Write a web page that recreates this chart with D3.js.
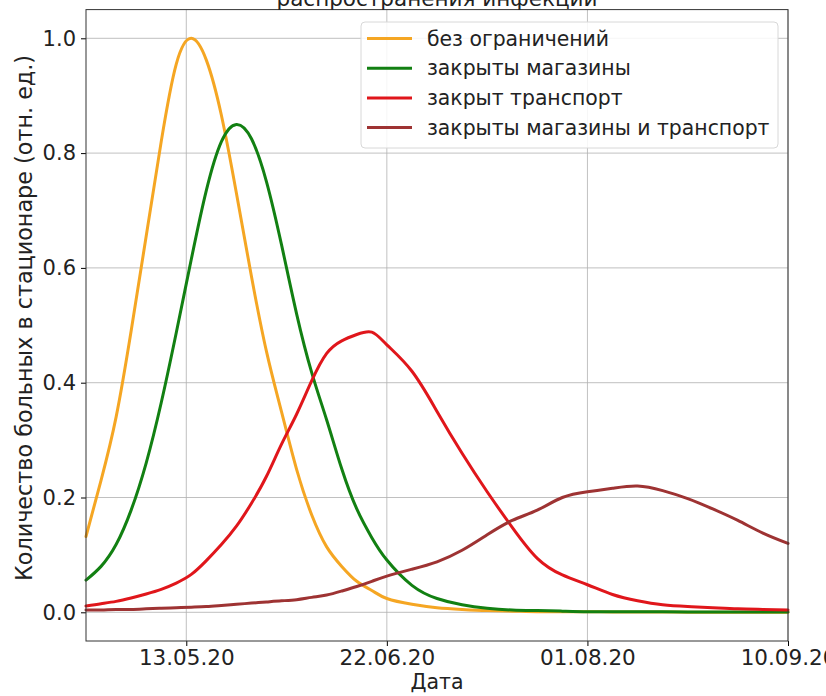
<!DOCTYPE html>
<html>
<head>
<meta charset="utf-8">
<script src="https://cdn.jsdelivr.net/npm/d3@7"></script>
<style>
  body { margin: 0; background: #fff; }
  text { font-family: "DejaVu Sans", sans-serif; }
</style>
</head>
<body>
<div id="my_dataviz"></div>
<script>
// days since 23.04.2020
var days = [0, 3, 6, 9, 12, 15, 18, 21, 24, 27, 30, 33, 36, 39, 42, 45, 48, 51, 54, 57, 60,
            65, 70, 75, 80, 85, 90, 95, 100, 105, 110, 115, 120, 125, 130, 135, 140];

var noLimits = [0.132, 0.23, 0.34, 0.49, 0.655, 0.82, 0.955, 1.0, 0.962, 0.866, 0.73, 0.585, 0.454, 0.349, 0.249, 0.17, 0.114, 0.08, 0.054, 0.038, 0.024,
                0.014, 0.008, 0.005, 0.003, 0.002, 0.001, 0.001, 0.001, 0.0005, 0.0005, 0.0005, 0.0003, 0.0003, 0.0002, 0.0002, 0.0002];
var shopsClosed = [0.056, 0.08, 0.118, 0.178, 0.26, 0.365, 0.487, 0.615, 0.735, 0.82, 0.85, 0.825, 0.75, 0.64, 0.52, 0.418, 0.335, 0.25, 0.18, 0.13, 0.091,
                   0.047, 0.024, 0.013, 0.007, 0.004, 0.003, 0.002, 0.001, 0.001, 0.001, 0.0008, 0.0006, 0.0005, 0.0005, 0.0004, 0.0004];
var transportClosed = [0.011, 0.015, 0.019, 0.025, 0.032, 0.04, 0.051, 0.066, 0.09, 0.118, 0.15, 0.19, 0.237, 0.293, 0.345, 0.403, 0.451, 0.473, 0.484, 0.488, 0.466,
                       0.42, 0.35, 0.277, 0.21, 0.148, 0.094, 0.065, 0.048, 0.031, 0.02, 0.013, 0.01, 0.008, 0.006, 0.005, 0.004];
var bothClosed = [0.004, 0.004, 0.005, 0.005, 0.006, 0.007, 0.008, 0.009, 0.01, 0.012, 0.014, 0.016, 0.018, 0.02, 0.022, 0.026, 0.03, 0.037, 0.045, 0.054, 0.063,
                  0.075, 0.088, 0.108, 0.135, 0.16, 0.178, 0.2, 0.21, 0.216, 0.22, 0.212, 0.198, 0.18, 0.16, 0.138, 0.12];

var seriesNames = ["без ограничений", "закрыты магазины", "закрыт транспорт", "закрыты магазины и транспорт"];
var seriesColors = ["#f5a623", "#128012", "#e0161b", "#9e3333"];
var seriesValues = [noLimits, shopsClosed, transportClosed, bothClosed];

var xTickDates = ["13.05.2020", "22.06.2020", "01.08.2020", "10.09.2020"];
var yTicks = [0.0, 0.2, 0.4, 0.6, 0.8, 1.0];

var parseDate = d3.timeParse("%d.%m.%Y");
var startDate = parseDate("23.04.2020");

var W = 826, H = 696;
var margin = {top: 9.6, right: 38, bottom: 55, left: 86};

var svg = d3.select("#my_dataviz")
  .append("svg")
    .attr("width", W)
    .attr("height", H);

var x = d3.scaleTime()
    .domain([startDate, d3.timeDay.offset(startDate, 140)])
    .range([margin.left, W - margin.right]);

var y = d3.scaleLinear()
    .domain([-0.05, 1.05])
    .range([H - margin.bottom, margin.top]);

// grid
svg.append("g")
  .attr("stroke", "#b0b0b0")
  .attr("stroke-width", 1)
  .attr("stroke-opacity", 0.8)
  .selectAll("line")
  .data(xTickDates.map(parseDate))
  .join("line")
    .attr("x1", d => x(d)).attr("x2", d => x(d))
    .attr("y1", margin.top).attr("y2", H - margin.bottom);

svg.append("g")
  .attr("stroke", "#b0b0b0")
  .attr("stroke-width", 1)
  .attr("stroke-opacity", 0.8)
  .selectAll("line")
  .data(yTicks)
  .join("line")
    .attr("x1", margin.left).attr("x2", W - margin.right)
    .attr("y1", d => y(d)).attr("y2", d => y(d));

// lines
var line = d3.line()
  .x((d, i) => x(d3.timeDay.offset(startDate, days[i])))
  .y(d => y(d))
  .curve(d3.curveNatural);

svg.append("g")
  .attr("fill", "none")
  .attr("stroke-width", 3)
  .attr("stroke-linejoin", "round")
  .attr("stroke-linecap", "round")
  .selectAll("path")
  .data(seriesValues)
  .join("path")
    .attr("stroke", (d, i) => seriesColors[i])
    .attr("d", d => line(d));

// axes
var xAxis = g => g
  .attr("transform", `translate(0,${H - margin.bottom})`)
  .call(d3.axisBottom(x)
    .tickValues(xTickDates.map(parseDate))
    .tickFormat(d3.timeFormat("%d.%m.%y"))
    .tickSize(5).tickPadding(4))
  .call(g => g.select(".domain").remove())
  .call(g => g.selectAll("text").attr("font-size", 21.5).attr("fill", "#222").attr("font-family", "DejaVu Sans"));

var yAxis = g => g
  .attr("transform", `translate(${margin.left},0)`)
  .call(d3.axisLeft(y)
    .tickValues(yTicks)
    .tickFormat(d3.format(".1f"))
    .tickSize(5).tickPadding(5))
  .call(g => g.select(".domain").remove())
  .call(g => g.selectAll("text").attr("font-size", 21).attr("fill", "#222").attr("font-family", "DejaVu Sans"));

svg.append("g").call(xAxis);
svg.append("g").call(yAxis);

// frame
svg.append("rect")
  .attr("x", margin.left)
  .attr("y", margin.top)
  .attr("width", W - margin.right - margin.left)
  .attr("height", H - margin.bottom - margin.top)
  .attr("fill", "none")
  .attr("stroke", "#333")
  .attr("stroke-width", 1);

// labels
svg.append("text")
  .attr("x", (margin.left + W - margin.right) / 2)
  .attr("y", 689)
  .attr("text-anchor", "middle")
  .attr("font-size", 20.5)
  .attr("fill", "#222")
  .text("Дата");

svg.append("text")
  .attr("transform", "translate(32,318) rotate(-90)")
  .attr("text-anchor", "middle")
  .attr("font-size", 22.3)
  .attr("fill", "#222")
  .text("Количество больных в стационаре (отн. ед.)");

svg.append("text")
  .attr("x", (margin.left + W - margin.right) / 2)
  .attr("y", 6)
  .attr("text-anchor", "middle")
  .attr("font-size", 21.5)
  .attr("fill", "#222")
  .text("распространения инфекции");

// legend
var legend = svg.append("g").attr("transform", "translate(361,22)");
legend.append("rect")
  .attr("width", 417)
  .attr("height", 126)
  .attr("rx", 4)
  .attr("fill", "#fff")
  .attr("fill-opacity", 0.85)
  .attr("stroke", "#d8d8d8");

var item = legend.selectAll("g.item")
  .data(seriesNames)
  .join("g")
    .attr("class", "item")
    .attr("transform", (d, i) => `translate(0,${16.5 + i * 29.7})`);

item.append("line")
  .attr("x1", 6).attr("x2", 51)
  .attr("stroke", (d, i) => seriesColors[i])
  .attr("stroke-width", 3);

item.append("text")
  .attr("x", 66)
  .attr("dy", "0.35em")
  .attr("font-size", 20.4)
  .attr("fill", "#222")
  .text(d => d);
</script>
</body>
</html>
